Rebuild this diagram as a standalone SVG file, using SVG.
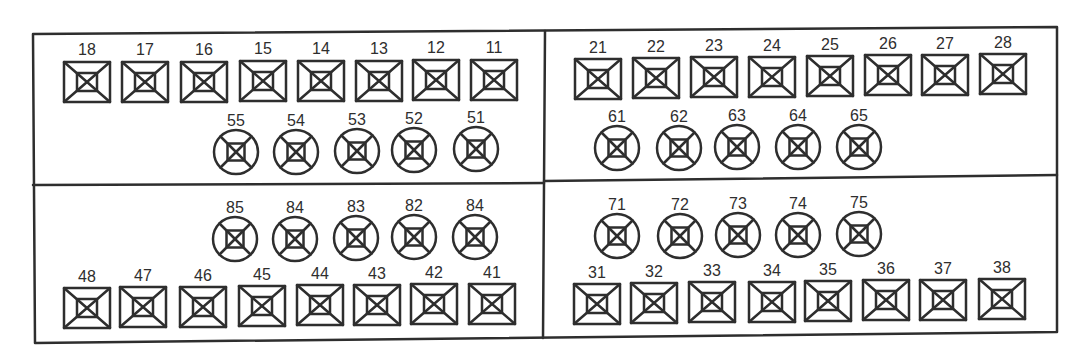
<svg xmlns="http://www.w3.org/2000/svg" xmlns:xlink="http://www.w3.org/1999/xlink" width="1092" height="364" viewBox="0 0 1092 364">
<style>
.ln{fill:none;stroke:#2e2e2e;stroke-width:2.5;stroke-linecap:round;stroke-linejoin:round}
.lb{font-family:"Liberation Sans",Arial,sans-serif;font-size:16px;fill:#2e2e2e;text-anchor:middle}
</style>
<defs>
<g id="sq" class="ln">
<rect x="-23" y="-20" width="46" height="40"/>
<rect x="-10" y="-9" width="20" height="18"/>
<line x1="-23" y1="-20" x2="23" y2="20"/>
<line x1="23" y1="-20" x2="-23" y2="20"/>
</g>
<g id="ci" class="ln">
<circle r="22"/>
<rect x="-8.5" y="-8.5" width="17" height="17"/>
<line x1="-15.5" y1="-15.5" x2="15.5" y2="15.5"/>
<line x1="15.5" y1="-15.5" x2="-15.5" y2="15.5"/>
</g>
</defs>
<rect width="1092" height="364" fill="#ffffff"/>
<g id="frame" class="ln">
<path d="M33,34 L1057,27 L1057,332 L35,343 Z"/>
<line x1="33" y1="185" x2="544" y2="183"/>
<line x1="544" y1="181" x2="1057" y2="175"/>
<line x1="545" y1="31" x2="543" y2="338"/>
</g>
<g id="t18"><use href="#sq" x="87" y="82"/><text class="lb" x="87" y="55">18</text></g>
<g id="t17"><use href="#sq" x="145" y="82"/><text class="lb" x="145" y="55">17</text></g>
<g id="t16"><use href="#sq" x="204" y="82"/><text class="lb" x="204" y="55">16</text></g>
<g id="t15"><use href="#sq" x="263" y="81"/><text class="lb" x="263" y="54">15</text></g>
<g id="t14"><use href="#sq" x="321" y="81"/><text class="lb" x="321" y="54">14</text></g>
<g id="t13"><use href="#sq" x="379" y="81"/><text class="lb" x="379" y="54">13</text></g>
<g id="t12"><use href="#sq" x="436" y="80"/><text class="lb" x="436" y="53">12</text></g>
<g id="t11"><use href="#sq" x="494" y="80"/><text class="lb" x="494" y="53">11</text></g>
<g id="t55"><use href="#ci" x="236" y="152"/><text class="lb" x="236" y="126">55</text></g>
<g id="t54"><use href="#ci" x="296" y="152"/><text class="lb" x="296" y="126">54</text></g>
<g id="t53"><use href="#ci" x="357" y="151"/><text class="lb" x="357" y="125">53</text></g>
<g id="t52"><use href="#ci" x="414" y="150"/><text class="lb" x="414" y="124">52</text></g>
<g id="t51"><use href="#ci" x="476" y="149"/><text class="lb" x="476" y="123">51</text></g>
<g id="t21"><use href="#sq" x="598" y="79"/><text class="lb" x="598" y="53">21</text></g>
<g id="t22"><use href="#sq" x="656" y="78"/><text class="lb" x="656" y="52">22</text></g>
<g id="t23"><use href="#sq" x="714" y="77"/><text class="lb" x="714" y="51">23</text></g>
<g id="t24"><use href="#sq" x="772" y="77"/><text class="lb" x="772" y="51">24</text></g>
<g id="t25"><use href="#sq" x="830" y="76"/><text class="lb" x="830" y="50">25</text></g>
<g id="t26"><use href="#sq" x="888" y="75"/><text class="lb" x="888" y="49">26</text></g>
<g id="t27"><use href="#sq" x="945" y="75"/><text class="lb" x="945" y="49">27</text></g>
<g id="t28"><use href="#sq" x="1003" y="74"/><text class="lb" x="1003" y="48">28</text></g>
<g id="t61"><use href="#ci" x="617" y="148"/><text class="lb" x="617" y="122">61</text></g>
<g id="t62"><use href="#ci" x="679" y="148"/><text class="lb" x="679" y="122">62</text></g>
<g id="t63"><use href="#ci" x="737" y="147"/><text class="lb" x="737" y="121">63</text></g>
<g id="t64"><use href="#ci" x="798" y="147"/><text class="lb" x="798" y="121">64</text></g>
<g id="t65"><use href="#ci" x="859" y="147"/><text class="lb" x="859" y="121">65</text></g>
<g id="t85"><use href="#ci" x="235" y="239"/><text class="lb" x="235" y="213">85</text></g>
<g id="t84"><use href="#ci" x="295" y="239"/><text class="lb" x="295" y="213">84</text></g>
<g id="t83"><use href="#ci" x="356" y="238"/><text class="lb" x="356" y="212">83</text></g>
<g id="t82"><use href="#ci" x="414" y="237"/><text class="lb" x="414" y="211">82</text></g>
<g id="t81"><use href="#ci" x="475" y="237"/><text class="lb" x="475" y="211">84</text></g>
<g id="t48"><use href="#sq" x="87" y="308"/><text class="lb" x="87" y="282">48</text></g>
<g id="t47"><use href="#sq" x="143" y="307"/><text class="lb" x="143" y="281">47</text></g>
<g id="t46"><use href="#sq" x="203" y="307"/><text class="lb" x="203" y="281">46</text></g>
<g id="t45"><use href="#sq" x="262" y="306"/><text class="lb" x="262" y="280">45</text></g>
<g id="t44"><use href="#sq" x="320" y="305"/><text class="lb" x="320" y="279">44</text></g>
<g id="t43"><use href="#sq" x="377" y="305"/><text class="lb" x="377" y="279">43</text></g>
<g id="t42"><use href="#sq" x="434" y="304"/><text class="lb" x="434" y="278">42</text></g>
<g id="t41"><use href="#sq" x="492" y="304"/><text class="lb" x="492" y="278">41</text></g>
<g id="t71"><use href="#ci" x="617" y="236"/><text class="lb" x="617" y="210">71</text></g>
<g id="t72"><use href="#ci" x="680" y="236"/><text class="lb" x="680" y="210">72</text></g>
<g id="t73"><use href="#ci" x="738" y="235"/><text class="lb" x="738" y="209">73</text></g>
<g id="t74"><use href="#ci" x="798" y="235"/><text class="lb" x="798" y="209">74</text></g>
<g id="t75"><use href="#ci" x="859" y="234"/><text class="lb" x="859" y="208">75</text></g>
<g id="t31"><use href="#sq" x="597" y="304"/><text class="lb" x="597" y="278">31</text></g>
<g id="t32"><use href="#sq" x="654" y="303"/><text class="lb" x="654" y="277">32</text></g>
<g id="t33"><use href="#sq" x="712" y="302"/><text class="lb" x="712" y="276">33</text></g>
<g id="t34"><use href="#sq" x="772" y="302"/><text class="lb" x="772" y="276">34</text></g>
<g id="t35"><use href="#sq" x="828" y="301"/><text class="lb" x="828" y="275">35</text></g>
<g id="t36"><use href="#sq" x="886" y="300"/><text class="lb" x="886" y="274">36</text></g>
<g id="t37"><use href="#sq" x="943" y="300"/><text class="lb" x="943" y="274">37</text></g>
<g id="t38"><use href="#sq" x="1002" y="299"/><text class="lb" x="1002" y="273">38</text></g>
</svg>
